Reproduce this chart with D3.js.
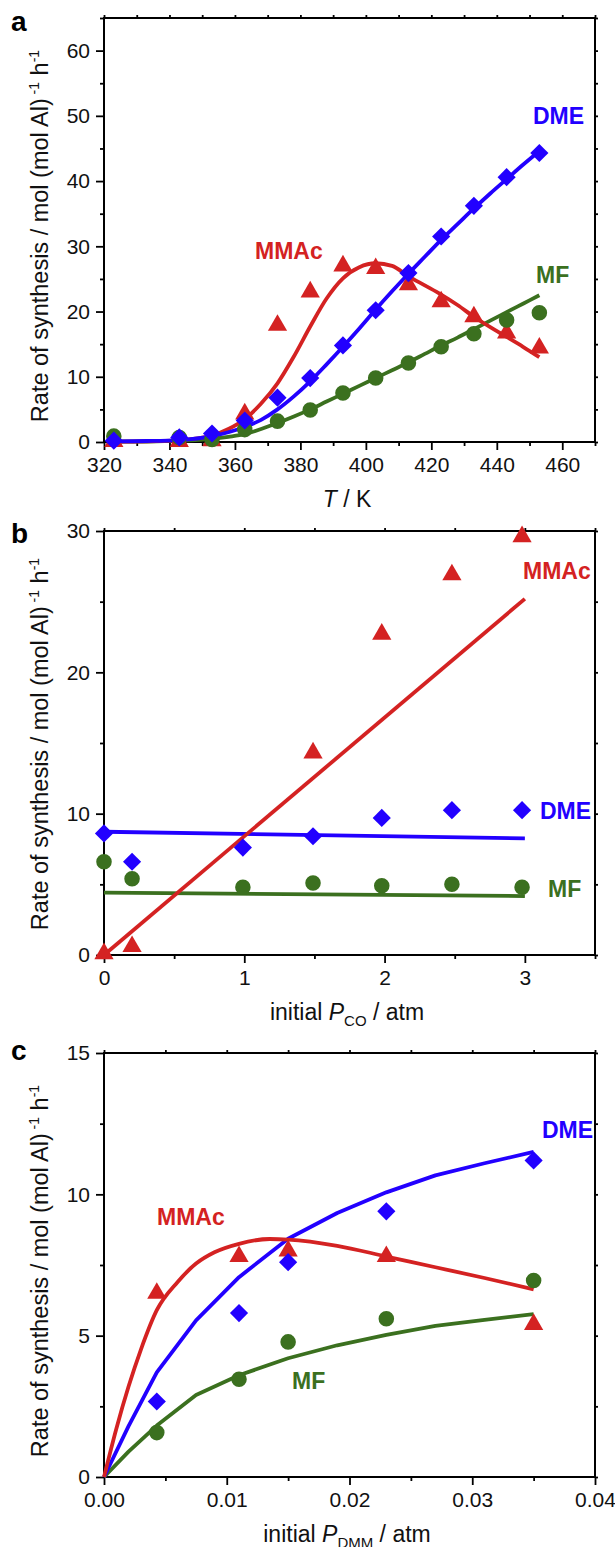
<!DOCTYPE html>
<html>
<head>
<meta charset="utf-8">
<script src="https://cdn.jsdelivr.net/npm/d3@7"></script>
<style>
  body { margin: 0; background: #fff; }
  svg { display: block; }
</style>
</head>
<body>
<svg id="fig" width="615" height="1547"></svg>
<script>
// ---- panel a : rate vs T ----
var aT     = [323, 343, 353, 363, 373, 383, 393, 403, 413, 423, 433, 443, 453];
var aDME   = [0.2, 0.7, 1.3, 3.3, 6.8, 9.8, 14.8, 20.2, 25.9, 31.5, 36.2, 40.6, 44.3];
var aMMAc  = [0.1, 0.1, 0.2, 4.3, 17.9, 23.0, 27.0, 26.6, 24.1, 21.5, 19.2, 16.7, 14.4];
var aMF    = [0.9, 0.7, 0.4, 1.9, 3.2, 4.9, 7.5, 9.8, 12.1, 14.6, 16.6, 18.7, 19.8];
var aFitT    = [323, 333, 343, 353, 358, 363, 368, 373, 378, 383, 388, 393, 398, 403, 408, 413, 418, 423, 428, 433, 438, 443, 448, 453];
var aFitDME  = [0.1, 0.15, 0.3, 0.9, 1.5, 2.3, 3.4, 5.0, 7.0, 9.3, 11.9, 14.6, 17.4, 20.3, 23.1, 25.8, 28.4, 31.0, 33.4, 35.8, 38.1, 40.3, 42.5, 44.6];
var aFitMMAc = [0.05, 0.1, 0.3, 1.0, 2.0, 3.5, 5.9, 9.0, 13.1, 17.7, 22.0, 25.1, 26.8, 27.4, 27.0, 25.4, 24.0, 22.6, 21.0, 19.2, 17.6, 16.1, 14.6, 13.0];
var aFitMF   = [0.05, 0.08, 0.2, 0.5, 0.8, 1.2, 2.0, 2.9, 3.9, 5.0, 6.2, 7.4, 8.6, 9.8, 11.0, 12.2, 13.5, 14.8, 16.0, 17.3, 18.6, 19.9, 21.2, 22.5];
var aXTicks = [320, 340, 360, 380, 400, 420, 440, 460];
var aXMinor = [330, 350, 370, 390, 410, 430, 450, 470];
var aYTicks = [0, 10, 20, 30, 40, 50, 60];
var aYMinor = [5, 15, 25, 35, 45, 55, 65];

// ---- panel b : rate vs initial P_CO ----
var bP     = [0, 0.2, 0.99, 1.49, 1.98, 2.48, 2.98];
var bDME   = [8.6, 6.6, 7.6, 8.4, 9.7, 10.25, 10.25];
var bMMAc  = [0.1, 0.6, null, 14.3, 22.7, 26.9, 29.6];
var bMF    = [6.6, 5.4, 4.8, 5.1, 4.9, 5.0, 4.8];
var bFitP    = [0, 3];
var bFitDME  = [8.72, 8.25];
var bFitMMAc = [0, 25.2];
var bFitMF   = [4.41, 4.17];
var bXTicks = [0, 1, 2, 3];
var bXMinor = [0.5, 1.5, 2.5, 3.5];
var bYTicks = [0, 10, 20, 30];
var bYMinor = [5, 15, 25];

// ---- panel c : rate vs initial P_DMM ----
var cP     = [0.0043, 0.011, 0.015, 0.023, 0.035];
var cDME   = [2.67, 5.8, 7.6, 9.4, 11.2];
var cMMAc  = [6.5, 7.8, 8.0, 7.8, 5.4];
var cMF    = [1.57, 3.46, 4.78, 5.6, 6.95];
var cFitP    = [0, 0.002, 0.0043, 0.0075, 0.011, 0.015, 0.019, 0.023, 0.027, 0.031, 0.035];
var cFitDME  = [0, 1.8, 3.7, 5.54, 7.07, 8.43, 9.34, 10.07, 10.67, 11.1, 11.5];
var cFitMF   = [0, 0.9, 1.82, 2.9, 3.6, 4.2, 4.66, 5.03, 5.35, 5.56, 5.76];
var cFitPm   = [0, 0.001, 0.002, 0.003, 0.0043, 0.006, 0.0075, 0.009, 0.011, 0.0135, 0.015, 0.019, 0.023, 0.027, 0.031, 0.035];
var cFitMMAc = [0, 1.7, 3.2, 4.5, 5.9, 6.9, 7.55, 7.95, 8.25, 8.42, 8.4, 8.18, 7.8, 7.42, 7.04, 6.64];
var cXTicks = [0, 0.01, 0.02, 0.03, 0.04];
var cXMinor = [0.005, 0.015, 0.025, 0.035];
var cYTicks = [0, 5, 10, 15];
var cYMinor = [2.5, 7.5, 12.5];

var RED = "#d42222", BLUE = "#2200ff", GREEN = "#3b701f";
var FONT = "Arial, 'Liberation Sans', sans-serif";
var X0 = 104, X1 = 595;

var svg = d3.select("#fig");

function drawPanel(p) {
  var g = svg.append("g");
  var x = d3.scaleLinear().domain(p.xDomain).range([X0, X1]);
  var y = d3.scaleLinear().domain(p.yDomain).range([p.bottom, p.top]);

  //minor ticks
  g.append("g").attr("transform", "translate(0," + p.bottom + ")")
    .call(d3.axisBottom(x).tickValues(p.xMinor).tickSize(4).tickFormat(""));
  g.append("g").attr("transform", "translate(" + X0 + ",0)")
    .call(d3.axisLeft(y).tickValues(p.yMinor).tickSize(4).tickFormat(""));
  //major ticks
  g.append("g").attr("transform", "translate(0," + p.bottom + ")")
    .call(d3.axisBottom(x).tickValues(p.xTicks).tickSize(8).tickPadding(7).tickFormat(p.xFormat));
  g.append("g").attr("transform", "translate(" + X0 + ",0)")
    .call(d3.axisLeft(y).tickValues(p.yTicks).tickSize(8).tickPadding(6).tickFormat(d3.format("d")));
  //mirror ticks top / right
  g.append("g").attr("transform", "translate(0," + p.top + ")")
    .call(d3.axisTop(x).tickValues(p.xTicks.concat(p.xMinor)).tickSize(3).tickFormat(""));
  g.append("g").attr("transform", "translate(" + X1 + ",0)")
    .call(d3.axisRight(y).tickValues(p.yTicks.concat(p.yMinor)).tickSize(3).tickFormat(""));

  g.selectAll(".domain").remove();
  g.selectAll(".tick line").attr("stroke", "#000").attr("stroke-width", 1.8);
  g.selectAll(".tick text").attr("font-size", 21).attr("font-family", FONT).attr("fill", "#111");

  g.append("rect").attr("x", X0).attr("y", p.top)
    .attr("width", X1 - X0).attr("height", p.bottom - p.top)
    .attr("fill", "none").attr("stroke", "#000").attr("stroke-width", 2);

  //fitted lines
  p.fits.forEach(function (f) {
    var pts = f.xs.map(function (v, i) { return [v, f.ys[i]]; });
    var line = d3.line().x(function (d) { return x(d[0]); }).y(function (d) { return y(d[1]); }).curve(f.curve || d3.curveLinear);
    g.append("path").datum(pts).attr("d", line)
      .attr("fill", "none").attr("stroke", f.color).attr("stroke-width", 3.8)
      .attr("stroke-linejoin", "round");
  });

  //markers
  p.points.forEach(function (s) {
    var pts = s.xs.map(function (v, i) { return [v, s.ys[i]]; }).filter(function (d) { return d[1] != null; });
    var sym = d3.symbol().type(s.type).size(s.size);
    g.selectAll(null).data(pts).enter().append("path")
      .attr("d", sym)
      .attr("transform", function (d) { return "translate(" + x(d[0]) + "," + y(d[1]) + ")" + (s.rot ? " rotate(45)" : ""); })
      .attr("fill", s.color);
  });

  //series labels
  p.labels.forEach(function (l) {
    g.append("text").attr("x", l.x).attr("y", l.y).text(l.text)
      .attr("font-family", FONT).attr("font-size", 23).attr("font-weight", "bold").attr("fill", l.color);
  });

  //panel letter
  g.append("text").attr("x", 11).attr("y", p.letterY).text(p.letter)
    .attr("font-family", FONT).attr("font-size", 28).attr("font-weight", "bold");

  //y title
  var yt = g.append("text")
    .attr("transform", "translate(48," + p.yTitleY + ") rotate(-90)")
    .attr("text-anchor", "middle").attr("font-family", FONT).attr("font-size", 23.5).attr("fill", "#111");
  yt.append("tspan").text("Rate of synthesis / mol (mol Al)");
  yt.append("tspan").attr("dy", -9).attr("font-size", 14).text(" -1");
  yt.append("tspan").attr("dy", 9).text(" h");
  yt.append("tspan").attr("dy", -9).attr("font-size", 14).text("-1");

  //x title
  var xt = g.append("text").attr("x", 347).attr("y", p.bottom + 65)
    .attr("text-anchor", "middle").attr("font-family", FONT).attr("font-size", 23).attr("fill", "#111");
  p.xTitle(xt);
}

var TRI = d3.symbolTriangle, SQ = d3.symbolSquare, CIR = d3.symbolCircle;

drawPanel({
  letter: "a", letterY: 31, top: 18, bottom: 442, yTitleY: 236,
  xDomain: [320, 470], yDomain: [0, 65],
  xTicks: aXTicks, xMinor: aXMinor, yTicks: aYTicks, yMinor: aYMinor,
  xFormat: d3.format("d"),
  fits: [
    { xs: aFitT, ys: aFitMF, color: GREEN, curve: d3.curveMonotoneX },
    { xs: aFitT, ys: aFitMMAc, color: RED, curve: d3.curveMonotoneX },
    { xs: aFitT, ys: aFitDME, color: BLUE, curve: d3.curveMonotoneX }
  ],
  points: [
    { xs: aT, ys: aMMAc, color: RED, type: TRI, size: 160 },
    { xs: aT, ys: aMF, color: GREEN, type: CIR, size: 190 },
    { xs: aT, ys: aDME, color: BLUE, type: SQ, size: 165, rot: true }
  ],
  labels: [
    { text: "DME", x: 533, y: 124, color: BLUE },
    { text: "MMAc", x: 255, y: 259, color: RED },
    { text: "MF", x: 536, y: 283, color: GREEN }
  ],
  xTitle: function (t) {
    t.append("tspan").attr("font-style", "italic").text("T");
    t.append("tspan").text(" / K");
  }
});

drawPanel({
  letter: "b", letterY: 543, top: 531, bottom: 955, yTitleY: 744,
  xDomain: [0, 3.5], yDomain: [0, 30],
  xTicks: bXTicks, xMinor: bXMinor, yTicks: bYTicks, yMinor: bYMinor,
  xFormat: d3.format("d"),
  fits: [
    { xs: bFitP, ys: bFitMF, color: GREEN },
    { xs: bFitP, ys: bFitDME, color: BLUE },
    { xs: bFitP, ys: bFitMMAc, color: RED }
  ],
  points: [
    { xs: bP, ys: bMMAc, color: RED, type: TRI, size: 160 },
    { xs: bP, ys: bMF, color: GREEN, type: CIR, size: 190 },
    { xs: bP, ys: bDME, color: BLUE, type: SQ, size: 165, rot: true }
  ],
  labels: [
    { text: "MMAc", x: 523, y: 579, color: RED },
    { text: "DME", x: 540, y: 819, color: BLUE },
    { text: "MF", x: 548, y: 897, color: GREEN }
  ],
  xTitle: function (t) {
    t.append("tspan").text("initial ");
    t.append("tspan").attr("font-style", "italic").text("P");
    t.append("tspan").attr("dy", 6).attr("font-size", 15).text("CO");
    t.append("tspan").attr("dy", -6).text(" / atm");
  }
});

drawPanel({
  letter: "c", letterY: 1060, top: 1053, bottom: 1477, yTitleY: 1271,
  xDomain: [0, 0.04], yDomain: [0, 15],
  xTicks: cXTicks, xMinor: cXMinor, yTicks: cYTicks, yMinor: cYMinor,
  xFormat: d3.format(".2f"),
  fits: [
    { xs: cFitP, ys: cFitMF, color: GREEN },
    { xs: cFitP, ys: cFitDME, color: BLUE },
    { xs: cFitPm, ys: cFitMMAc, color: RED, curve: d3.curveMonotoneX }
  ],
  points: [
    { xs: cP, ys: cMMAc, color: RED, type: TRI, size: 160 },
    { xs: cP, ys: cMF, color: GREEN, type: CIR, size: 190 },
    { xs: cP, ys: cDME, color: BLUE, type: SQ, size: 165, rot: true }
  ],
  labels: [
    { text: "DME", x: 542, y: 1138, color: BLUE },
    { text: "MMAc", x: 157, y: 1225, color: RED },
    { text: "MF", x: 292, y: 1389, color: GREEN }
  ],
  xTitle: function (t) {
    t.append("tspan").text("initial ");
    t.append("tspan").attr("font-style", "italic").text("P");
    t.append("tspan").attr("dy", 6).attr("font-size", 15).text("DMM");
    t.append("tspan").attr("dy", -6).text(" / atm");
  }
});
</script>
</body>
</html>
